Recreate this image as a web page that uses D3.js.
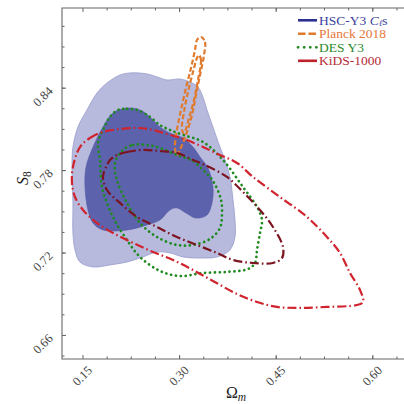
<!DOCTYPE html>
<html>
<head>
<meta charset="utf-8">
<script src="https://cdn.jsdelivr.net/npm/d3@7"></script>
<style>
body { margin: 0; background: #fff; }
svg { display: block; }
text { font-family: "Liberation Serif", "DejaVu Serif", serif; }
</style>
</head>
<body>
<svg id="chart" width="404" height="404"></svg>
<script>
// contour points, [Omega_m, S8]
var hscOuter = [[0.2082,0.8492],[0.2238,0.8507],[0.2502,0.8500],[0.2703,0.8471],[0.2812,0.8456],[0.3013,0.8463],
  [0.3170,0.8441],[0.3293,0.8405],[0.3371,0.8332],[0.3433,0.8238],[0.3526,0.8114],[0.3635,0.7968],[0.3713,0.7874],
  [0.3790,0.7750],[0.3837,0.7583],[0.3868,0.7437],[0.3868,0.7313],[0.3790,0.7219],[0.3588,0.7168],[0.3325,0.7160],
  [0.3061,0.7168],[0.2859,0.7197],[0.2657,0.7204],[0.2439,0.7168],[0.2191,0.7131],[0.1927,0.7110],[0.1663,0.7095],
  [0.1461,0.7131],[0.1384,0.7219],[0.1352,0.7342],[0.1352,0.7561],[0.1337,0.7823],[0.1352,0.7968],[0.1430,0.8114],
  [0.1570,0.8238],[0.1725,0.8361],[0.1880,0.8434]];
var hscInner = [[0.2191,0.8252],[0.2393,0.8238],[0.2548,0.8187],[0.2703,0.8114],[0.2859,0.8070],[0.3061,0.8034],
  [0.3216,0.7968],[0.3325,0.7896],[0.3449,0.7815],[0.3526,0.7677],[0.3511,0.7561],[0.3433,0.7473],[0.3262,0.7451],
  [0.3107,0.7488],[0.2967,0.7525],[0.2859,0.7510],[0.2703,0.7437],[0.2502,0.7401],[0.2191,0.7364],[0.1818,0.7364],
  [0.1663,0.7415],[0.1585,0.7510],[0.1539,0.7677],[0.1555,0.7823],[0.1663,0.7968],[0.1818,0.8114],[0.1974,0.8216]];
var planckOuter = [[0.3340,0.8769],[0.3402,0.8733],[0.3387,0.8638],[0.3325,0.8492],[0.3262,0.8347],[0.3200,0.8201],
  [0.3107,0.8056],[0.3013,0.7947],[0.2967,0.7910],[0.2936,0.7961],[0.2967,0.8092],[0.3030,0.8238],[0.3107,0.8398],
  [0.3185,0.8543],[0.3247,0.8674],[0.3278,0.8747]];
var planckInner = [[0.3309,0.8638],[0.3340,0.8602],[0.3293,0.8456],[0.3231,0.8310],[0.3154,0.8179],[0.3076,0.8070],
  [0.3045,0.8092],[0.3076,0.8223],[0.3138,0.8369],[0.3216,0.8514],[0.3278,0.8616]];
var desOuter = [[0.2051,0.8238],[0.2191,0.8245],[0.2346,0.8238],[0.2548,0.8187],[0.2703,0.8128],[0.2859,0.8092],
  [0.3061,0.8056],[0.3371,0.8005],[0.3682,0.7874],[0.3992,0.7677],[0.4210,0.7532],[0.4287,0.7437],[0.4256,0.7342],
  [0.4210,0.7219],[0.4179,0.7124],[0.4070,0.7080],[0.3744,0.7059],[0.3371,0.7051],[0.3013,0.7029],[0.2703,0.7066],
  [0.2393,0.7168],[0.2191,0.7291],[0.1974,0.7459],[0.1803,0.7677],[0.1772,0.7874],[0.1741,0.7997],[0.1818,0.8092],
  [0.1927,0.8187]];
var desInner = [[0.2129,0.7947],[0.2284,0.7983],[0.2502,0.7983],[0.2703,0.7961],[0.2967,0.7910],[0.3216,0.7866],
  [0.3371,0.7801],[0.3526,0.7721],[0.3651,0.7583],[0.3666,0.7473],[0.3635,0.7379],[0.3480,0.7299],[0.3216,0.7255],
  [0.2967,0.7255],[0.2657,0.7313],[0.2393,0.7415],[0.2191,0.7561],[0.2036,0.7728],[0.2005,0.7852]];
var kidsInner = [[0.2036,0.7910],[0.2191,0.7932],[0.2439,0.7947],[0.2703,0.7939],[0.2967,0.7925],[0.3216,0.7874],
  [0.3402,0.7837],[0.3744,0.7750],[0.3992,0.7641],[0.4256,0.7510],[0.4458,0.7386],[0.4613,0.7241],[0.4598,0.7160],
  [0.4458,0.7124],[0.4148,0.7124],[0.3837,0.7146],[0.3588,0.7197],[0.3278,0.7255],[0.2967,0.7313],[0.2657,0.7386],
  [0.2346,0.7459],[0.2082,0.7561],[0.1880,0.7655],[0.1818,0.7750],[0.1880,0.7837],[0.1927,0.7874]];
var kidsOuter = [[0.1461,0.7968],[0.1616,0.8034],[0.1818,0.8078],[0.2082,0.8099],[0.2346,0.8107],[0.2595,0.8092],
  [0.2859,0.8056],[0.3123,0.8019],[0.3371,0.7968],[0.3635,0.7910],[0.3899,0.7852],[0.4148,0.7750],[0.4567,0.7604],
  [0.4986,0.7459],[0.5296,0.7313],[0.5498,0.7197],[0.5654,0.7051],[0.5809,0.6928],[0.5856,0.6840],[0.5762,0.6818],
  [0.5296,0.6804],[0.4877,0.6797],[0.4520,0.6804],[0.4210,0.6840],[0.3899,0.6898],[0.3526,0.6993],[0.3216,0.7073],
  [0.2905,0.7146],[0.2595,0.7204],[0.2284,0.7270],[0.1974,0.7342],[0.1725,0.7415],[0.1508,0.7510],[0.1384,0.7604],
  [0.1337,0.7706],[0.1352,0.7823]];

var xTicks = [0.15, 0.30, 0.45, 0.60];
var xTickLabels = ["0.15", "0.30", "0.45", "0.60"];
var yTicks = [0.66, 0.72, 0.78, 0.84];
var yTickLabels = ["0.66", "0.72", "0.78", "0.84"];
var legendNames = ["HSC-Y3", "Planck 2018", "DES Y3", "KiDS-1000"];

var svg = d3.select("#chart");
var x = d3.scaleLinear().domain([0.1182, 0.65]).range([62, 404.5]);
var y = d3.scaleLinear().domain([0.6425, 0.898]).range([359, 8]);

svg.append("clipPath").attr("id", "plotclip").append("rect")
  .attr("x", 62).attr("y", 8).attr("width", 342.5).attr("height", 351);

var line = d3.line().x(function(d) { return x(d[0]); }).y(function(d) { return y(d[1]); })
  .curve(d3.curveCatmullRomClosed.alpha(0.5));

var plot = svg.append("g").attr("clip-path", "url(#plotclip)");

plot.append("path").attr("d", line(hscOuter))
  .attr("fill", "#b7badd").attr("stroke", "#989ccb").attr("stroke-width", 0.8);
plot.append("path").attr("d", line(hscInner))
  .attr("fill", "#5d62ad").attr("stroke", "#555aa6").attr("stroke-width", 0.6);

function contour(pts, color, width, dash, cap) {
  plot.append("path").attr("d", line(pts))
    .attr("fill", "none").attr("stroke", color).attr("stroke-width", width)
    .attr("stroke-dasharray", dash).attr("stroke-linecap", cap || "butt");
}
contour(planckOuter, "#e07a2c", 2.2, "5,2.5");
contour(planckInner, "#e07a2c", 2.2, "5,2.5");
contour(desOuter, "#1f8a1f", 2.7, "0.1,4.8", "round");
contour(desInner, "#1f8a1f", 2.7, "0.1,4.8", "round");
contour(kidsInner, "#7b1420", 2.2, "9,3,1.6,3");
contour(kidsOuter, "#d0232d", 2.2, "9,3,1.6,3");

// axes, ticks point inward
var xMinor = d3.range(0.1875, 0.65, 0.0375);
var yMinor = d3.range(0.645, 0.898, 0.015);
var axisColor = "#666";

function styleAxis(g) {
  g.select(".domain").remove();
  g.selectAll("line").attr("stroke", axisColor);
  g.selectAll("text").remove();
}
svg.append("g").attr("transform", "translate(0,359)")
  .call(d3.axisBottom(x).tickValues(xMinor).tickSize(-2.5)).call(styleAxis);
svg.append("g").attr("transform", "translate(0,359)")
  .call(d3.axisBottom(x).tickValues(xTicks).tickSize(-4)).call(styleAxis);
svg.append("g").attr("transform", "translate(0,8)")
  .call(d3.axisTop(x).tickValues(xMinor).tickSize(-2.5)).call(styleAxis);
svg.append("g").attr("transform", "translate(0,8)")
  .call(d3.axisTop(x).tickValues(xTicks).tickSize(-4)).call(styleAxis);
svg.append("g").attr("transform", "translate(62,0)")
  .call(d3.axisLeft(y).tickValues(yMinor).tickSize(-2.5)).call(styleAxis);
svg.append("g").attr("transform", "translate(62,0)")
  .call(d3.axisLeft(y).tickValues(yTicks).tickSize(-4)).call(styleAxis);

svg.append("path").attr("d", "M404.5,8H62V359H404.5")
  .attr("fill", "none").attr("stroke", axisColor).attr("stroke-width", 1.1);

svg.selectAll(".xlab").data(xTicks).enter().append("text")
  .attr("transform", function(d) { return "translate(" + x(d) + ",376) rotate(-45)"; })
  .attr("text-anchor", "middle").attr("dominant-baseline", "central")
  .attr("font-size", 12.5).attr("fill", "#444")
  .text(function(d, i) { return xTickLabels[i]; });
svg.selectAll(".ylab").data(yTicks).enter().append("text")
  .attr("transform", function(d) { return "translate(43," + (y(d) + 9) + ") rotate(-45)"; })
  .attr("text-anchor", "middle").attr("dominant-baseline", "central")
  .attr("font-size", 12.5).attr("fill", "#444")
  .text(function(d, i) { return yTickLabels[i]; });

var xl = svg.append("text").attr("x", 236).attr("y", 398).attr("text-anchor", "middle")
  .attr("font-size", 16).attr("fill", "#222");
xl.append("tspan").text("Ω");
xl.append("tspan").attr("font-style", "italic").attr("font-size", 11.5).attr("dy", 3).text("m");

var yl = svg.append("text").attr("transform", "translate(28,178) rotate(-90)").attr("text-anchor", "middle")
  .attr("font-size", 16).attr("fill", "#222");
yl.append("tspan").attr("font-style", "italic").text("S");
yl.append("tspan").attr("font-size", 11.5).attr("dy", 3).text("8");

// legend
var legColors = ["#2d3291", "#e07a2c", "#1f8a1f", "#c0222c"];
var textColors = ["#3b3f9c", "#e5773a", "#2a8a2a", "#b52a35"];
var legDash = [null, "7.5,3", "0.1,6", null];
var legCap = ["butt", "butt", "round", "butt"];
var legW = [2.6, 2.6, 2.8, 2.6];
var rowY = [20.3, 33.8, 47.3, 60.8];
legendNames.forEach(function(name, i) {
  svg.append("line").attr("x1", 298).attr("x2", 317).attr("y1", rowY[i]).attr("y2", rowY[i])
    .attr("stroke", legColors[i]).attr("stroke-width", legW[i])
    .attr("stroke-dasharray", legDash[i]).attr("stroke-linecap", legCap[i]);
  var t = svg.append("text").attr("x", 319).attr("y", rowY[i] + 4.6)
    .attr("font-size", 13.5).attr("fill", textColors[i]).text(name);
  if (i === 0) {
    t.append("tspan").text(" ");
    t.append("tspan").attr("font-style", "italic").text("C");
    t.append("tspan").attr("font-style", "italic").attr("font-size", 8.5).attr("dy", 1).text("ℓ");
    t.append("tspan").attr("dy", -1).text("s");
  }
});
</script>
</body>
</html>
